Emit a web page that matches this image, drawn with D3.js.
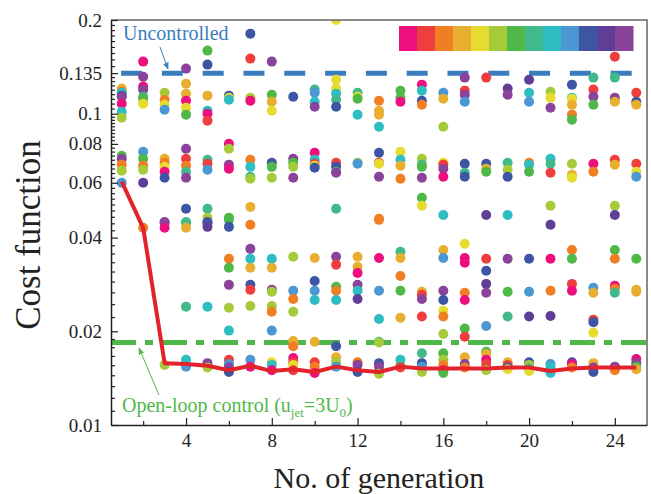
<!DOCTYPE html>
<html>
<head>
<meta charset="utf-8">
<script src="https://cdn.jsdelivr.net/npm/d3@7"></script>
<style>
  body { margin: 0; background: #fff; }
  text { font-family: "Liberation Serif", "Times New Roman", serif; }
</style>
</head>
<body>
<div id="chart"></div>
<script>
// Colour of each individual (index into palette)
const palette = ["#ec0f7d", "#ef3e3e", "#f07f24", "#e8ae2f", "#e5dc2f", "#a6cb3a", "#50b848",
                 "#42b98a", "#2ebdc2", "#4a97d2", "#3e55a4", "#5f3e98", "#8a439a"];

const generations = [1, 2, 3, 4, 5, 6, 7, 8, 9, 10, 11, 12, 13, 14, 15, 16, 17, 18, 19, 20, 21, 22, 23, 24, 25];

// cost of each individual, per generation: [cost, colour index]
const population = [
  [[0.1204,3],[0.1177,2],[0.1168,8],[0.1143,10],[0.1134,12],[0.1077,0],[0.1015,8],[0.097,5],[0.0733,6],[0.0717,12],[0.0686,2],[0.0656,5],[0.06,9]],
  [[0.147,0],[0.1315,12],[0.1222,0],[0.1195,12],[0.1134,7],[0.1117,6],[0.1077,4],[0.0755,9],[0.0717,6],[0.0681,2],[0.0661,5],[0.06,11],[0.043,2]],
  [[0.1168,5],[0.1109,2],[0.1069,4],[0.103,9],[0.0717,3],[0.0696,2],[0.0675,4],[0.0651,0],[0.0623,10],[0.0449,12],[0.0446,12],[0.043,0],[0.0156,5]],
  [[0.1396,12],[0.1249,3],[0.116,3],[0.1101,0],[0.1045,4],[0.0993,6],[0.0772,12],[0.0717,1],[0.0681,2],[0.0651,7],[0.0623,12],[0.0495,10],[0.0449,7],[0.0446,7],[0.043,3],[0.024,7],[0.0162,8],[0.0154,9]],
  [[0.1595,6],[0.1438,10],[0.1143,3],[0.1022,8],[0.1,0],[0.095,1],[0.0711,7],[0.0691,1],[0.0661,9],[0.0495,7],[0.0463,5],[0.0449,10],[0.0446,10],[0.0433,11],[0.024,8],[0.0158,12],[0.0153,5]],
  [[0.1143,10],[0.1126,4],[0.1109,8],[0.0801,0],[0.0772,5],[0.0686,12],[0.0666,0],[0.0463,6],[0.0456,6],[0.0433,10],[0.0342,2],[0.032,6],[0.0282,12],[0.0238,5],[0.0201,8],[0.0162,1],[0.0157,9],[0.0153,12],[0.0148,10]],
  [[0.1808,10],[0.1503,1],[0.1126,5],[0.1101,0],[0.0711,2],[0.0675,8],[0.0627,7],[0.0618,5],[0.0502,3],[0.044,2],[0.0368,12],[0.0342,8],[0.032,3],[0.0282,10],[0.0272,1],[0.0241,5],[0.0162,9],[0.0154,0]],
  [[0.147,12],[0.1151,6],[0.1093,3],[0.1022,4],[0.0696,10],[0.0675,6],[0.0623,5],[0.0342,8],[0.032,3],[0.0272,12],[0.0268,5],[0.0241,5],[0.0231,2],[0.0201,9],[0.0159,4],[0.0156,8],[0.015,0]],
  [[0.1134,10],[0.0717,12],[0.0696,6],[0.0675,5],[0.0623,12],[0.0347,5],[0.027,9],[0.0254,2],[0.0231,5],[0.0186,3],[0.0179,2],[0.0164,0],[0.0159,1],[0.0156,4],[0.015,1]],
  [[0.1195,7],[0.1168,9],[0.1093,8],[0.1053,12],[0.0749,0],[0.0711,8],[0.0691,1],[0.0681,4],[0.0671,10],[0.0344,3],[0.029,10],[0.027,9],[0.0252,8],[0.0185,3],[0.0159,1],[0.0154,2],[0.0147,0]],
  [[0.2,4],[0.1286,4],[0.1204,4],[0.116,8],[0.1109,7],[0.1053,10],[0.0696,1],[0.0675,10],[0.0651,6],[0.0646,12],[0.0495,7],[0.0347,12],[0.0327,1],[0.0278,6],[0.027,2],[0.0252,8],[0.0179,10],[0.0165,3],[0.0159,5],[0.0154,9]],
  [[0.1168,7],[0.1134,4],[0.1117,6],[0.0993,8],[0.0696,5],[0.0691,9],[0.0347,3],[0.0322,3],[0.0308,0],[0.0282,12],[0.027,8],[0.0254,11],[0.0159,2],[0.0156,12],[0.0148,10]],
  [[0.1101,2],[0.1022,3],[0.0993,3],[0.0908,8],[0.0749,10],[0.0696,1],[0.0691,4],[0.0627,12],[0.046,2],[0.0456,2],[0.0344,0],[0.027,9],[0.0219,8],[0.0185,7],[0.0184,5],[0.0158,10],[0.0154,12],[0.0146,5]],
  [[0.1186,6],[0.1126,6],[0.1093,0],[0.0755,4],[0.0711,8],[0.0681,3],[0.0618,2],[0.036,7],[0.0344,3],[0.0301,2],[0.027,6],[0.0221,3],[0.0162,8],[0.0155,7],[0.0153,1]],
  [[0.124,0],[0.1186,8],[0.1101,10],[0.1069,2],[0.0717,5],[0.0686,7],[0.0675,6],[0.0623,12],[0.0537,6],[0.0506,4],[0.0268,3],[0.0262,1],[0.0254,12],[0.0223,1],[0.017,7],[0.0158,10],[0.0154,9],[0.0148,5]],
  [[0.1168,9],[0.1117,3],[0.0908,5],[0.0696,4],[0.0686,1],[0.0666,12],[0.0627,0],[0.0473,8],[0.0365,3],[0.0344,9],[0.027,12],[0.0252,10],[0.0233,4],[0.0223,2],[0.0196,5],[0.017,6],[0.0162,5],[0.0156,2],[0.015,0],[0.0147,6]],
  [[0.1306,12],[0.1186,1],[0.1151,12],[0.1093,9],[0.0691,10],[0.0646,7],[0.0627,10],[0.0382,4],[0.0344,0],[0.0332,0],[0.0266,2],[0.0252,0],[0.0204,6],[0.0192,1],[0.0165,3],[0.0157,12],[0.0153,2]],
  [[0.1306,1],[0.0691,10],[0.0666,3],[0.0651,6],[0.0473,11],[0.0342,1],[0.0313,10],[0.0284,11],[0.0266,12],[0.0208,9],[0.0172,6],[0.0169,3],[0.0162,0],[0.0157,1],[0.015,5]],
  [[0.1204,11],[0.1151,12],[0.0696,7],[0.0661,5],[0.0627,10],[0.0473,8],[0.0342,12],[0.0268,6],[0.0223,7],[0.0159,3],[0.0156,1],[0.0153,10],[0.0151,4]],
  [[0.1286,11],[0.1168,8],[0.1093,9],[0.0696,2],[0.0686,8],[0.0651,6],[0.0342,10],[0.0268,9],[0.0223,11],[0.0159,10],[0.0156,5],[0.0152,7],[0.0149,4]],
  [[0.1177,5],[0.1126,4],[0.1045,12],[0.0717,8],[0.0691,7],[0.0646,1],[0.0506,5],[0.044,11],[0.0342,0],[0.027,2],[0.0224,11],[0.0157,9],[0.0154,8],[0.0147,8]],
  [[0.124,10],[0.1126,8],[0.1117,4],[0.1069,3],[0.0993,2],[0.0957,6],[0.0691,5],[0.0637,3],[0.0623,4],[0.0365,2],[0.0342,6],[0.0284,1],[0.027,0],[0.0159,10],[0.0157,0],[0.0153,2]],
  [[0.1306,7],[0.1195,1],[0.1134,12],[0.1069,6],[0.0691,0],[0.0651,2],[0.0276,9],[0.0266,3],[0.0218,1],[0.0214,10],[0.0198,4],[0.0158,3],[0.0153,12],[0.0148,10]],
  [[0.1525,1],[0.1306,7],[0.1126,12],[0.1093,3],[0.0711,1],[0.0686,3],[0.0506,5],[0.0473,11],[0.0365,6],[0.0342,2],[0.028,0],[0.0274,2],[0.0266,7],[0.0154,12],[0.015,2]],
  [[0.1168,1],[0.1093,10],[0.1069,3],[0.0691,1],[0.0651,4],[0.0627,9],[0.0342,6],[0.0272,3],[0.0268,3],[0.0163,0],[0.0158,12],[0.0154,6],[0.0151,3]]
];

// best cost of each generation (red line)
const bestCost = [0.0605, 0.043, 0.0158, 0.0157, 0.0155, 0.015, 0.0155, 0.0149, 0.0151, 0.0148, 0.0154, 0.015, 0.0148,
                  0.0154, 0.0152, 0.0152, 0.0152, 0.0152, 0.0153, 0.0153, 0.0149, 0.0152, 0.0153, 0.0153, 0.0153];

const uncontrolledCost = 0.135;
const openLoopCost = 0.0184;

const yTicks = [0.01, 0.02, 0.04, 0.06, 0.08, 0.1, 0.135, 0.2];
const yTickLabels = ["0.01", "0.02", "0.04", "0.06", "0.08", "0.1", "0.135", "0.2"];
const xTicks = [4, 8, 12, 16, 20, 24];
const xMinorTicks = [2, 6, 10, 14, 18, 22];

// Dimensions
const width = 651, height = 494;
const plotLeft = 111, plotRight = 647, plotTop = 20, plotBottom = 425;

const svg = d3.select("#chart")
    .append("svg")
    .attr("width", width)
    .attr("height", height);

const x = d3.scaleLinear().domain([0.5, 25.5]).range([plotLeft, plotRight]);
const y = d3.scaleLog().domain([0.01, 0.2]).range([plotBottom, plotTop]);

// minor y ticks: 8 evenly spaced values between each labelled tick
const yMinor = [];
for (let i = 0; i < yTicks.length - 1; i++) {
    const step = (yTicks[i + 1] - yTicks[i]) / 9;
    for (let k = 1; k <= 8; k++) yMinor.push(yTicks[i] + k * step);
}

const defs = svg.append("defs");
defs.append("clipPath").attr("id", "plot-clip")
    .append("rect")
    .attr("x", plotLeft).attr("y", plotTop)
    .attr("width", plotRight - plotLeft).attr("height", plotBottom - plotTop);

// Reference lines
svg.append("line")
    .attr("x1", x(0.97)).attr("x2", x(24.9))
    .attr("y1", y(uncontrolledCost)).attr("y2", y(uncontrolledCost))
    .attr("stroke", "#3a7dbf")
    .attr("stroke-width", 5)
    .attr("stroke-dasharray", "21,19.8");

svg.append("line")
    .attr("x1", plotLeft).attr("x2", plotRight)
    .attr("y1", y(openLoopCost)).attr("y2", y(openLoopCost))
    .attr("stroke", "#50b848")
    .attr("stroke-width", 5)
    .attr("stroke-dasharray", "25,9,8,9");

// Population dots
const dots = svg.append("g").attr("clip-path", "url(#plot-clip)");
population.forEach((pop, i) => {
    dots.selectAll(null)
        .data(pop)
        .enter()
        .append("circle")
        .attr("cx", x(generations[i]))
        .attr("cy", d => y(d[0]))
        .attr("r", 5)
        .attr("fill", d => palette[d[1]]);
});

// Best-of-generation line
const line = d3.line()
    .x((d, i) => x(generations[i]))
    .y(d => y(d));

svg.append("path")
    .datum(bestCost)
    .attr("fill", "none")
    .attr("stroke", "#e3222b")
    .attr("stroke-width", 4)
    .attr("stroke-linejoin", "round")
    .attr("d", line);

// Frame (top, right)
svg.append("path")
    .attr("d", `M${plotLeft},${plotTop}H${plotRight}V${plotBottom}`)
    .attr("fill", "none")
    .attr("stroke", "#666")
    .attr("stroke-width", 1.5);

// Axes
svg.append("g")
    .attr("transform", `translate(${plotLeft},0)`)
    .call(d3.axisLeft(y).tickValues(yTicks).tickFormat((d, i) => yTickLabels[i])
        .tickSizeInner(-7).tickSizeOuter(0).tickPadding(9));
svg.append("g")
    .attr("transform", `translate(${plotLeft},0)`)
    .call(d3.axisLeft(y).tickValues(yMinor).tickFormat("").tickSizeInner(-4).tickSizeOuter(0))
    .select(".domain").remove();

svg.append("g")
    .attr("transform", `translate(0,${plotBottom})`)
    .call(d3.axisBottom(x).tickValues(xTicks).tickFormat(d3.format("d"))
        .tickSizeInner(-7).tickSizeOuter(0).tickPadding(9));
svg.append("g")
    .attr("transform", `translate(0,${plotBottom})`)
    .call(d3.axisBottom(x).tickValues(xMinorTicks).tickFormat("").tickSizeInner(-4).tickSizeOuter(0))
    .select(".domain").remove();

svg.selectAll(".domain").attr("stroke", "#222").attr("stroke-width", 1.5);
svg.selectAll(".tick line").attr("stroke", "#222").attr("stroke-width", 1.2);
svg.selectAll(".tick text")
    .style("font-family", "'Liberation Serif', serif")
    .style("font-size", "19px")
    .attr("fill", "#222");

// Axis titles
svg.append("text")
    .attr("x", 379)
    .attr("y", 488)
    .attr("text-anchor", "middle")
    .style("font-size", "30px")
    .attr("fill", "#222")
    .text("No. of generation");

svg.append("text")
    .attr("transform", "rotate(-90)")
    .attr("x", -235)
    .attr("y", 40)
    .attr("text-anchor", "middle")
    .style("font-size", "35px")
    .attr("fill", "#222")
    .text("Cost function");

// Colour legend bar
svg.selectAll(".legend")
    .data(palette)
    .enter()
    .append("rect")
    .attr("x", (d, i) => 399 + i * 18)
    .attr("y", 26)
    .attr("width", 18.5)
    .attr("height", 25)
    .attr("fill", d => d);

// Annotations
[["arrow-blue", "#3a7dbf"], ["arrow-green", "#50b848"]].forEach(([id, c]) => {
    defs.append("marker")
        .attr("id", id)
        .attr("viewBox", "0 0 10 10")
        .attr("refX", 9).attr("refY", 5)
        .attr("markerWidth", 7).attr("markerHeight", 7)
        .attr("orient", "auto")
        .append("path")
        .attr("d", "M0,1L10,5L0,9Z")
        .attr("fill", c);
});

svg.append("text")
    .attr("x", 123)
    .attr("y", 40)
    .style("font-size", "20px")
    .attr("fill", "#3a7dbf")
    .text("Uncontrolled");

svg.append("line")
    .attr("x1", 160).attr("y1", 47)
    .attr("x2", 168).attr("y2", 69)
    .attr("stroke", "#3a7dbf")
    .attr("stroke-width", 1)
    .attr("marker-end", "url(#arrow-blue)");

const ol = svg.append("text")
    .attr("x", 122)
    .attr("y", 412)
    .style("font-size", "20px")
    .attr("fill", "#50b848");
ol.append("tspan").text("Open-loop control (u");
ol.append("tspan").attr("dy", 5).style("font-size", "13px").text("jet");
ol.append("tspan").attr("dy", -5).text("=3U");
ol.append("tspan").attr("dy", 5).style("font-size", "13px").text("0");
ol.append("tspan").attr("dy", -5).text(")");

svg.append("line")
    .attr("x1", 159).attr("y1", 395)
    .attr("x2", 139).attr("y2", 348)
    .attr("stroke", "#50b848")
    .attr("stroke-width", 1)
    .attr("marker-end", "url(#arrow-green)");
</script>
</body>
</html>
